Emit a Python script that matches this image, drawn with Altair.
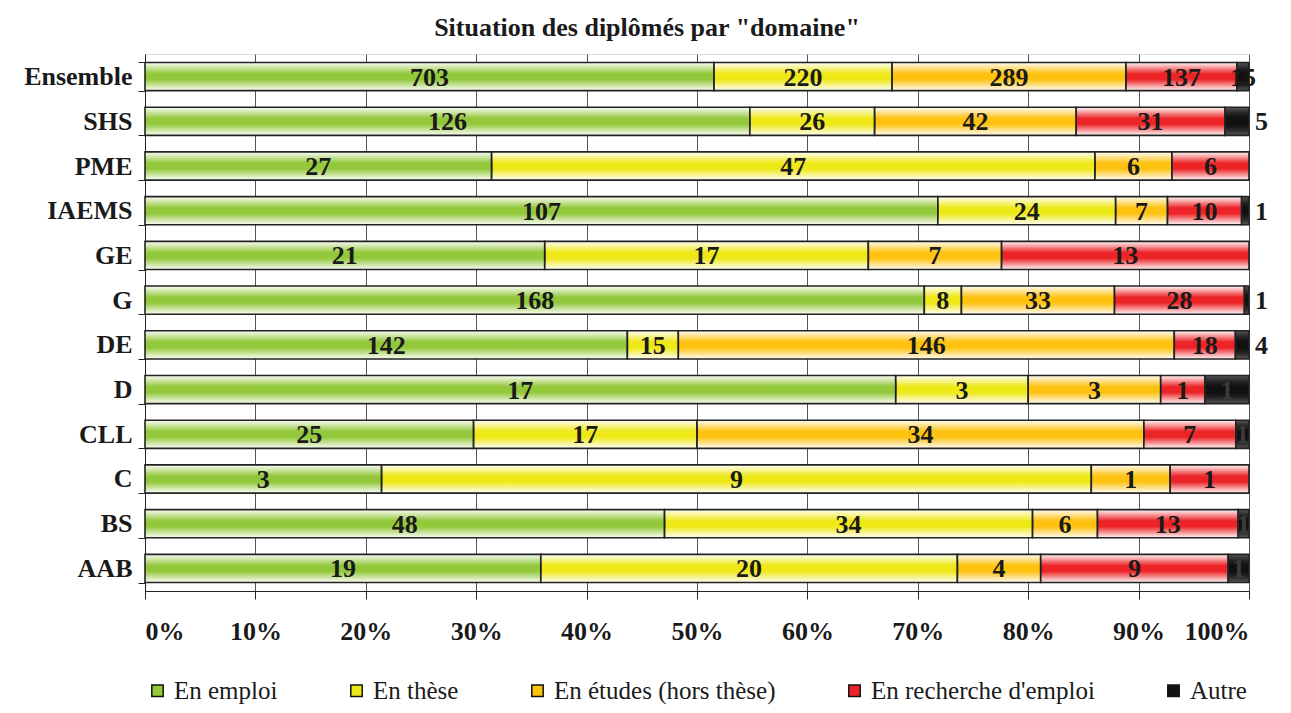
import altair as alt
import pandas as pd

domaines = ["Ensemble", "SHS", "PME", "IAEMS", "GE", "G", "DE", "D", "CLL", "C", "BS", "AAB"]
en_emploi = [703, 126, 27, 107, 21, 168, 142, 17, 25, 3, 48, 19]
en_these = [220, 26, 47, 24, 17, 8, 15, 3, 17, 9, 34, 20]
en_etudes = [289, 42, 6, 7, 7, 33, 146, 3, 34, 1, 6, 4]
en_recherche = [137, 31, 6, 10, 13, 28, 18, 1, 7, 1, 13, 9]
autre = [15, 5, 0, 1, 0, 1, 4, 1, 1, 0, 1, 1]

categories = ["En emploi", "En thèse", "En études (hors thèse)", "En recherche d'emploi", "Autre"]
colors = ["#93c83a", "#efe817", "#fec20f", "#ec2427", "#111111"]
autre_outside = ["SHS", "IAEMS", "G", "DE"]

series = [en_emploi, en_these, en_etudes, en_recherche, autre]
rows = []
for ci, (cat, vals) in enumerate(zip(categories, series)):
    for d, v in zip(domaines, vals):
        rows.append({"domaine": d, "cat": cat, "ord": ci, "value": v,
                     "outside": (cat == "Autre" and d in autre_outside)})
df = pd.DataFrame(rows)

FONT = "Liberation Serif"

base = alt.Chart(df).transform_joinaggregate(
    total="sum(value)", groupby=["domaine"]
).transform_window(
    cum="sum(value)", groupby=["domaine"], sort=[alt.SortField("ord")], frame=[None, 0]
).transform_calculate(
    start="(datum.cum - datum.value) / datum.total",
    end="datum.cum / datum.total",
    mid="(datum.cum - datum.value / 2) / datum.total",
)

yenc = alt.Y("domaine:N", sort=domaines, title=None,
             scale=alt.Scale(paddingInner=0.37, paddingOuter=0.19),
             axis=alt.Axis(labelFont=FONT, labelFontSize=26, labelFontWeight="bold",
                           labelColor="#1a1a1a", tickBand="extent", tickSize=7,
                           tickColor="#222", domainColor="#222", labelPadding=6,
                           grid=False))
xenc = alt.X("start:Q", title=None,
             scale=alt.Scale(domain=[0, 1], nice=False),
             axis=alt.Axis(format=".0%", values=[i / 10 for i in range(11)],
                           labelFont=FONT, labelFontSize=26, labelFontWeight="bold",
                           labelColor="#1a1a1a", tickSize=8, tickColor="#222",
                           domainColor="#222", labelPadding=19, grid=True,
                           gridColor="#555", gridWidth=1))

bars = base.mark_bar(strokeWidth=0).encode(
    y=yenc, x=xenc, x2="end:Q",
    color=alt.Color("cat:N", scale=alt.Scale(domain=categories, range=colors),
                    sort=categories, title=None,
                    legend=alt.Legend(orient="bottom", direction="horizontal", columns=5,
                                      columnPadding=66, labelFont=FONT, labelFontSize=25,
                                      labelColor="#1a1a1a", symbolType="square",
                                      symbolSize=130, symbolStrokeColor="#111",
                                      symbolStrokeWidth=1.5, labelOffset=4,
                                      labelLimit=500, offset=34)),
)

light = {"x1": 0, "y1": 0, "x2": 0, "y2": 1, "gradient": "linear",
         "stops": [{"offset": 0, "color": "rgba(255,255,255,0.97)"},
                   {"offset": 0.4, "color": "rgba(255,255,255,0)"},
                   {"offset": 0.6, "color": "rgba(255,255,255,0)"},
                   {"offset": 1, "color": "rgba(255,255,255,0.97)"}]}
dark = {"x1": 0, "y1": 0, "x2": 0, "y2": 1, "gradient": "linear",
        "stops": [{"offset": 0, "color": "rgba(110,110,110,0.8)"},
                  {"offset": 0.5, "color": "rgba(0,0,0,0)"},
                  {"offset": 1, "color": "rgba(110,110,110,0.8)"}]}

overlay = base.transform_filter("datum.cat != 'Autre' && datum.value > 0").mark_bar(
    fill=light, stroke="#222", strokeWidth=1.6
).encode(y=alt.Y("domaine:N", sort=domaines), x="start:Q", x2="end:Q")

overlay_dark = base.transform_filter("datum.cat == 'Autre' && datum.value > 0").mark_bar(
    fill=dark, stroke="#222", strokeWidth=1.6
).encode(y=alt.Y("domaine:N", sort=domaines), x="start:Q", x2="end:Q")

labels_in = base.transform_filter("datum.value > 0 && !datum.outside").mark_text(
    font=FONT, fontSize=26, fontWeight="bold", baseline="middle", align="center", dy=1
).encode(
    y=alt.Y("domaine:N", sort=domaines), x="mid:Q", text="value:Q",
    color=alt.condition("datum.cat == 'Autre' && datum.domaine != 'Ensemble'",
                        alt.value("#3c3c3c"), alt.value("#1a1a1a")),
)

labels_out = base.transform_filter("datum.value > 0 && datum.outside").mark_text(
    font=FONT, fontSize=26, fontWeight="bold", baseline="middle", align="left",
    dx=6, dy=1, color="#1a1a1a"
).encode(y=alt.Y("domaine:N", sort=domaines), x="end:Q", text="value:Q")

chart = alt.layer(bars, overlay, overlay_dark, labels_in, labels_out).properties(
    width=1104, height=537,
    title=alt.Title('Situation des diplômés par "domaine"', font=FONT, fontSize=26,
                    fontWeight="bold", color="#1a1a1a", offset=0, dx=-50),
    autosize=alt.AutoSizeParams(type="none"),
    padding={"left": 137, "top": 46, "right": 33, "bottom": 114},
).configure_view(stroke=None).configure(background="white")

chart.save("out.html", embed_options={"renderer": "svg", "actions": False})
